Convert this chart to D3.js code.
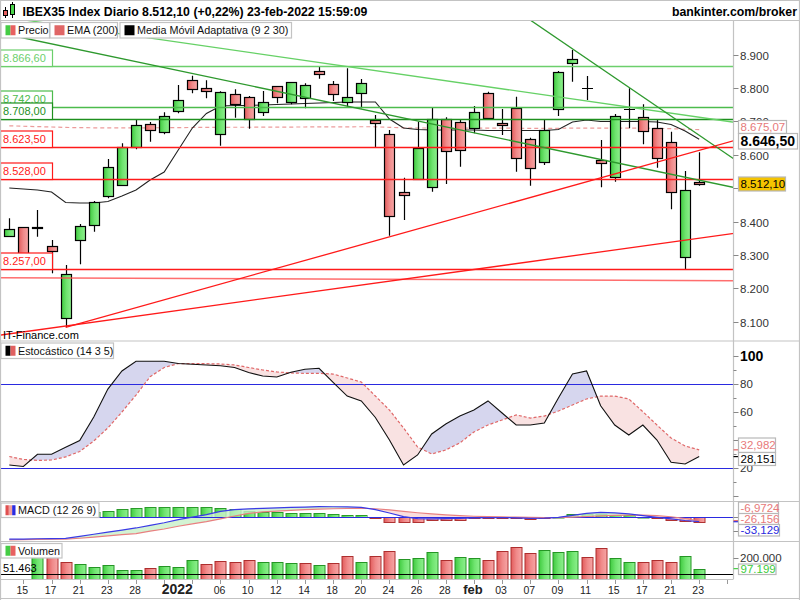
<!DOCTYPE html>
<html><head><meta charset="utf-8">
<script src="https://cdn.jsdelivr.net/npm/d3@7/dist/d3.min.js"></script>
<style>
html,body{margin:0;padding:0;background:#fff;}
svg{display:block;font-family:"Liberation Sans",Arial,sans-serif;}
</style></head><body>
<svg id="c" width="800" height="600"></svg>
<script>
// ---------------- DATA ----------------
const dates = ["2021-12-14","2021-12-15","2021-12-16","2021-12-17","2021-12-20","2021-12-21","2021-12-22","2021-12-23","2021-12-27","2021-12-28","2021-12-29","2021-12-30","2022-01-03","2022-01-04","2022-01-05","2022-01-06","2022-01-07","2022-01-10","2022-01-11","2022-01-12","2022-01-13","2022-01-14","2022-01-17","2022-01-18","2022-01-19","2022-01-20","2022-01-21","2022-01-24","2022-01-25","2022-01-26","2022-01-27","2022-01-28","2022-01-31","2022-02-01","2022-02-02","2022-02-03","2022-02-04","2022-02-07","2022-02-08","2022-02-09","2022-02-10","2022-02-11","2022-02-14","2022-02-15","2022-02-16","2022-02-17","2022-02-18","2022-02-21","2022-02-22","2022-02-23"];
const open  = [8357.5,8382.6,8384.4,8325.7,8110.2,8343.7,8389.5,8475.4,8510.2,8623.1,8691.0,8667.1,8729.9,8822.8,8798.8,8662.9,8780.8,8771.8,8727.8,8804.8,8756.9,8768.9,8849.7,8810.8,8758.7,8783.8,8703.0,8661.1,8487.4,8526.4,8502.4,8706.9,8697.0,8679.0,8783.8,8694.0,8740.7,8646.1,8577.2,8735.9,8873.7,8798.8,8583.2,8533.2,8735.9,8712.0,8679.0,8637.1,8292.8,8517.4];
const high  = [8409.6,8382.6,8434.4,8344.6,8269.8,8392.5,8461.4,8587.1,8634.1,8703.9,8697.9,8727.0,8808.7,8836.5,8822.8,8790.0,8795.8,8775.8,8790.7,8806.0,8818.0,8813.8,8865.6,8820.7,8858.7,8826.6,8718.9,8674.0,8531.1,8698.8,8740.7,8712.0,8706.9,8745.8,8788.6,8736.8,8773.7,8650.9,8703.9,8850.6,8913.5,8835.6,8644.0,8721.9,8798.8,8750.9,8706.9,8668.9,8551.2,8607.2];
const low   = [8354.5,8296.0,8354.5,8244.9,8083.2,8271.9,8369.5,8469.5,8507.2,8616.2,8638.9,8661.1,8724.0,8783.8,8768.9,8626.9,8710.8,8677.8,8715.9,8753.9,8750.9,8738.9,8827.5,8760.8,8743.7,8738.9,8622.2,8357.5,8404.5,8526.4,8489.2,8512.3,8564.1,8664.1,8710.0,8659.0,8549.1,8507.2,8569.2,8715.9,8818.6,8763.8,8502.4,8519.2,8679.0,8631.1,8561.1,8436.5,8257.0,8507.2];
const close = [8376.6,8300.0,8379.6,8310.8,8241.9,8386.5,8457.5,8562.3,8622.2,8688.0,8674.0,8715.0,8762.9,8796.7,8789.8,8787.0,8750.9,8706.0,8756.9,8771.8,8816.8,8807.8,8840.7,8780.8,8773.7,8813.8,8694.0,8415.6,8478.4,8619.2,8706.9,8610.2,8613.2,8726.9,8710.8,8688.0,8589.2,8559.3,8673.1,8846.7,8885.6,8798.8,8574.3,8716.8,8735.9,8670.0,8589.2,8487.4,8493.4,8512.1];
const ema200 = [8686.5,8685.2,8684.1,8683.0,8681.6,8681.0,8680.6,8680.4,8680.4,8680.5,8680.6,8680.8,8681.1,8681.5,8681.8,8682.0,8682.2,8682.2,8682.4,8682.5,8682.8,8683.0,8683.3,8683.4,8683.5,8683.7,8683.6,8681.9,8680.4,8679.8,8680.0,8679.8,8679.6,8679.6,8679.7,8679.6,8679.3,8678.8,8678.7,8679.0,8679.5,8679.7,8679.4,8679.5,8679.6,8679.4,8678.9,8678.0,8676.2,8675.07];
const kama = [8500.3,8497.3,8494.3,8488.3,8456.9,8455.4,8455.4,8459.9,8476.3,8494.3,8524.3,8548.3,8614.1,8679.9,8723.4,8745.8,8747.3,8747.3,8748.8,8750.3,8751.8,8753.3,8754.8,8756.3,8757.8,8757.8,8757.8,8706.9,8679.9,8675.4,8673.9,8673.9,8673.9,8673.9,8672.4,8672.4,8672.4,8672.4,8672.4,8675.4,8697.9,8703.9,8699.4,8699.4,8699.4,8699.4,8697.9,8690.4,8670.9,8646.5];
const volume = [null,null,215000,205000,156800,138000,112700,131500,81700,81700,103300,122100,112700,178400,140800,169000,159600,178400,159600,159600,150200,150200,131500,150200,213100,159600,213100,262900,187800,194400,250700,175600,203800,194400,175600,260100,297700,241300,269500,250700,260100,203800,288300,194400,156800,156800,175600,156800,213100,97199];
const stochK = [22.1,21.1,29.8,29.8,34.8,39.6,56.4,76.4,89.3,96.2,96.2,96.2,94.6,94.1,93.6,93.0,91.8,88.2,85.7,85.0,88.4,90.5,91.2,81.2,71.4,67.9,56.1,40.0,22.1,29.3,44.3,51.4,57.1,61.4,67.9,59.3,50.7,50.7,52.1,70.0,87.1,89.3,64.5,50.7,43.6,50.7,40.0,24.1,22.9,28.151];
const stochD = [28.2,26.1,25.4,25.7,27.9,31.8,39.3,48.6,60.0,72.1,85.2,91.8,94.6,94.6,94.5,94.3,93.6,91.8,90.0,88.6,87.9,87.6,87.6,87.1,84.3,81.4,71.4,61.4,48.6,35.0,30.0,32.9,37.9,45.7,50.7,54.3,57.9,55.7,57.1,60.7,65.0,69.3,71.4,71.4,69.3,60.2,50.7,41.4,35.7,32.982];
const macdLine = [-164,-163,-161,-160,-158,-143,-127,-111,-96,-80,-60,-41,-18,1,20,45,58,63,67,70,74,77,80,79,78,75,58,32,5,-10,-12,-10,-8,-5,-3,-2,-4,-8,-6,0,15,30,37,33,25,12,0,-12,-24,-33.129];
const macdSignal = [-170,-168,-166,-164,-163,-157,-149,-139,-130,-122,-104,-88,-67,-49,-33,-12,10,30,40,46,52,57,62,64,66,68,64,55,44,34,25,18,12,8,5,3,1,-1,-2,-2,1,6,11,15,17,16,12,4,-9,-26.156];
const macdHist = [1.6,2.4,3.2,4.0,4.8,6.3,7.9,10.0,13.2,14.3,15.9,15.9,15.9,15.9,15.9,14.3,12.7,10.0,7.9,7.9,6.3,6.3,6.3,4.8,3.6,3.6,-0.8,-6.8,-7.9,-7.9,-4.0,-4.0,-4.0,-1.6,-1.6,-0.8,-1.6,-3.2,-1.6,0.8,4.8,4.8,4.8,4.0,3.2,0.8,-1.6,-4.0,-5.5,-6.9724];
const xTickIdx    = [1,3,5,7,9,12,15,17,19,21,23,25,27,29,31,33,35,37,39,41,43,45,47,49];
const xTickLabels = ["15","17","21","23","28","2022","06","10","12","14","18","20","24","26","28","feb","03","07","09","11","15","17","21","23"];
// visible price-axis labels (8.500 and 8.700 sit under the value boxes)
const priceTicks = [8100,8200,8300,8400,8500,8600,8700,8800,8900];
const priceTickLabels = ["8.100","8.200","8.300","8.400","","8.600","8.700","8.800","8.900"];
const stochTicks = [20,60,80,100];
const levelValues = [8866.6,8742.0,8708.0,8623.5,8528.0,8257.0];
const levelLabels = ["8.866,60","8.742,00","8.708,00","8.623,50","8.528,00","8.257,00"];
// trendlines: [startIndex, startPrice, endIndex, endPrice]
const trendGreenLong  = [-1, 8967.2, 52, 8497.0];
const trendGreenLight = [-1, 9016.0, 52, 8693.9];
const trendGreenSteep = [36, 9031.9, 52, 8571.9];
const trendRedSteep   = [4, 8083.2, 52, 8648.4];
const trendRedShallow = [-1, 8057.8, 52, 8367.3];
const trendRedFlat    = [-1, 8231.8, 52, 8222.7];

// ---------------- SETUP ----------------
const svg = d3.select('#c');
const AX = 733.5;
const P = {mainTop:21, mainBot:341, stBot:501.5, mcBot:541.5, vBot:579};
const x  = d3.scaleLinear().domain([0,49]).range([9.3,699.2]);
const yP = d3.scaleLinear().domain([8100,8900]).range([321.7,54.5]);
const yS = d3.scaleLinear().domain([0,100]).range([496,356]);
const yM = d3.scaleLinear().domain([-183,117]).range([541.7,501.7]);
const yH = d3.scaleLinear().domain([-38.7,24.8]).range([541.7,501.7]);
const yV = d3.scaleLinear().domain([0,200000]).range([579,557.7]);
const xr = i => Math.round(x(i)) + 0.5;
const idx = d3.range(dates.length);
const GRAY = '#c3c3c3';

const defs = svg.append('defs');
function grad(id, stops){
  const g = defs.append('linearGradient').attr('id',id).attr('x1','0%').attr('x2','100%').attr('y1','0%').attr('y2','0%');
  stops.forEach((c,k)=>g.append('stop').attr('offset',(k/(stops.length-1)*100)+'%').attr('stop-color',c));
}
grad('gG',['#3fca3f','#6fe46f','#8ef08e']);
grad('gR',['#e25c5c','#f08a8a','#f6a6a6']);
function clip(id,x0,y0,w,h){defs.append('clipPath').attr('id',id).append('rect').attr('x',x0).attr('y',y0).attr('width',w).attr('height',h);}
clip('cMain',1,P.mainTop,AX-1,P.mainBot-P.mainTop);
clip('cSt',1,P.mainBot,AX-1,P.stBot-P.mainBot);
clip('cMc',1,P.stBot,AX-1,P.mcBot-P.stBot);
clip('cV',1,P.mcBot,AX-1,P.vBot-P.mcBot);

svg.append('rect').attr('width',800).attr('height',600).attr('fill','#fff');

// ---------------- MAIN PANEL ----------------
const gm = svg.append('g').attr('clip-path','url(#cMain)');
gm.append('path').datum(idx).attr('fill','none').attr('stroke','#e98a8a').attr('stroke-width',1.2)
  .attr('stroke-dasharray','4,3').attr('opacity',0.85)
  .attr('d', d3.line().x(i=>x(i)).y(i=>yP(ema200[i])));
gm.append('path').datum(idx).attr('fill','none').attr('stroke','#222').attr('stroke-width',1.1)
  .attr('d', d3.line().x(i=>x(i)).y(i=>yP(kama[i])));
idx.forEach(i=>{
  const cx = xr(i);
  gm.append('line').attr('x1',cx).attr('x2',cx).attr('y1',yP(high[i])).attr('y2',yP(low[i])).attr('stroke','#000').attr('stroke-width',1.2);
  const o=open[i], c=close[i];
  if (Math.abs(c-o) < 0.5){
    gm.append('line').attr('x1',cx-5.5).attr('x2',cx+5.5).attr('y1',Math.round(yP(c))+0.5).attr('y2',Math.round(yP(c))+0.5).attr('stroke','#000').attr('stroke-width',1.2);
  } else {
    const t = Math.round(yP(Math.max(o,c)))+0.5, b = Math.round(yP(Math.min(o,c)))+0.5;
    gm.append('rect').attr('x',cx-5).attr('y',t).attr('width',10).attr('height',Math.max(1,b-t))
      .attr('fill', c>o ? 'url(#gG)' : 'url(#gR)').attr('stroke','#000').attr('stroke-width',1.2);
  }
});
const levelColors = ['#6ccf6c','#4cbb4c','#1e8f1e','#ff1a1a','#ff1a1a','#ff1a1a'];
levelValues.forEach((v,k)=>{
  gm.append('line').attr('x1',0).attr('x2',AX).attr('y1',Math.round(yP(v))+0.5).attr('y2',Math.round(yP(v))+0.5)
    .attr('stroke',levelColors[k]).attr('stroke-width',1.3);
});
function tline(t,color,w,op){
  gm.append('line').attr('x1',x(t[0])).attr('y1',yP(t[1])).attr('x2',x(t[2])).attr('y2',yP(t[3]))
    .attr('stroke',color).attr('stroke-width',w).attr('opacity',op||1);
}
tline(trendRedFlat,'#ff5555',1.6,0.85);
tline(trendGreenLight,'#66d166',1.3);
tline(trendGreenLong,'#2e992e',1.3);
tline(trendGreenSteep,'#2e992e',1.3);
tline(trendRedSteep,'#ff1a1a',1.3);
tline(trendRedShallow,'#ff1a1a',1.3);
levelValues.forEach((v,k)=>{
  const yb = Math.round(yP(v))+0.5;
  svg.append('rect').attr('x',0.5).attr('y',yb-16.5).attr('width',52).attr('height',16.5)
    .attr('fill','#fff').attr('stroke',levelColors[k]).attr('stroke-width',1.2);
  svg.append('text').attr('x',3).attr('y',yb-4.5).attr('font-size',11).attr('fill',levelColors[k]).text(levelLabels[k]);
});
svg.append('text').attr('x',3).attr('y',339).attr('font-size',11).attr('fill','#000').text('IT-Finance.com');

// ---------------- STOCHASTIC ----------------
const gs = svg.append('g').attr('clip-path','url(#cSt)');
const stArea = d3.area().x(i=>x(i)).y0(i=>yS(stochD[i])).y1(i=>yS(stochK[i]));
defs.append('clipPath').attr('id','stUp').append('path').datum(idx)
  .attr('d', d3.area().x(i=>x(i)).y0(P.mainTop).y1(i=>yS(stochD[i])));
defs.append('clipPath').attr('id','stDn').append('path').datum(idx)
  .attr('d', d3.area().x(i=>x(i)).y0(i=>yS(stochD[i])).y1(600));
gs.append('path').datum(idx).attr('d',stArea).attr('fill','#d6d6ee').attr('clip-path','url(#stUp)');
gs.append('path').datum(idx).attr('d',stArea).attr('fill','#f9e2e2').attr('clip-path','url(#stDn)');
[80,20].forEach(v=>gs.append('line').attr('x1',0).attr('x2',AX).attr('y1',Math.round(yS(v))+0.5).attr('y2',Math.round(yS(v))+0.5).attr('stroke','#2a2ae0').attr('stroke-width',1.2));
gs.append('path').datum(idx).attr('fill','none').attr('stroke','#e06868').attr('stroke-width',1.2).attr('stroke-dasharray','3,2')
  .attr('d', d3.line().x(i=>x(i)).y(i=>yS(stochD[i])));
gs.append('path').datum(idx).attr('fill','none').attr('stroke','#111').attr('stroke-width',1.1)
  .attr('d', d3.line().x(i=>x(i)).y(i=>yS(stochK[i])));

// ---------------- MACD ----------------
const gc = svg.append('g').attr('clip-path','url(#cMc)');
idx.forEach(i=>{
  const h = macdHist[i], y0 = Math.round(yH(0))+0.5, y1 = Math.round(yH(h))+0.5;
  gc.append('rect').attr('x',xr(i)-5.5).attr('width',11).attr('y',Math.min(y0,y1)).attr('height',Math.max(0.5,Math.abs(y1-y0)))
    .attr('fill', h>=0 ? 'url(#gG)' : 'url(#gR)').attr('stroke', h>=0 ? '#2a9a2a' : '#b03232').attr('stroke-width',1);
});
const mcArea = d3.area().x(i=>x(i)).y0(i=>yM(macdSignal[i])).y1(i=>yM(macdLine[i]));
defs.append('clipPath').attr('id','mcUp').append('path').datum(idx)
  .attr('d', d3.area().x(i=>x(i)).y0(P.stBot).y1(i=>yM(macdSignal[i])));
defs.append('clipPath').attr('id','mcDn').append('path').datum(idx)
  .attr('d', d3.area().x(i=>x(i)).y0(i=>yM(macdSignal[i])).y1(600));
gc.append('path').datum(idx).attr('d',mcArea).attr('fill','#c8f0c8').attr('opacity',0.8).attr('clip-path','url(#mcUp)');
gc.append('path').datum(idx).attr('d',mcArea).attr('fill','#f9d6d6').attr('opacity',0.8).attr('clip-path','url(#mcDn)');
gc.append('line').attr('x1',0).attr('x2',AX).attr('y1',Math.round(yM(0))+0.5).attr('y2',Math.round(yM(0))+0.5).attr('stroke','#2a2ae0').attr('stroke-width',1.2);
gc.append('path').datum(idx).attr('fill','none').attr('stroke','#e88080').attr('stroke-width',1.2)
  .attr('d', d3.line().x(i=>x(i)).y(i=>yM(macdSignal[i])));
gc.append('path').datum(idx).attr('fill','none').attr('stroke','#3a3ae6').attr('stroke-width',1.2)
  .attr('d', d3.line().x(i=>x(i)).y(i=>yM(macdLine[i])));

// ---------------- VOLUME ----------------
const gv = svg.append('g').attr('clip-path','url(#cV)');
idx.forEach(i=>{
  if (volume[i]==null) return;
  const up = i===0 || close[i] >= close[i-1];
  const t = Math.round(yV(volume[i]))+0.5, b = Math.round(yV(0))+0.5;
  gv.append('rect').attr('x',xr(i)-5.5).attr('width',11).attr('y',t).attr('height',b-t)
    .attr('fill', up ? 'url(#gG)' : 'url(#gR)').attr('stroke', up ? '#259525' : '#ad2e2e').attr('stroke-width',1);
});
gv.append('line').attr('x1',0).attr('x2',AX).attr('y1',Math.round(yV(51463))+0.5).attr('y2',Math.round(yV(51463))+0.5).attr('stroke','#000').attr('stroke-width',1.2);
svg.append('text').attr('x',3).attr('y',571.5).attr('font-size',11).attr('fill','#000').text('51.463');

// ---------------- FRAME / SEPARATORS ----------------
[0.5, P.mainTop-0.5, P.mainBot, P.stBot, P.mcBot].forEach(yy=>
  svg.append('line').attr('x1',0).attr('x2',800).attr('y1',yy).attr('y2',yy).attr('stroke',GRAY).attr('stroke-width',1.2));
svg.append('line').attr('x1',0).attr('x2',800).attr('y1',598.5).attr('y2',598.5).attr('stroke',GRAY).attr('stroke-width',1.2);
svg.append('line').attr('x1',0.5).attr('x2',0.5).attr('y1',0).attr('y2',600).attr('stroke',GRAY).attr('stroke-width',1.2);
svg.append('line').attr('x1',799.5).attr('x2',799.5).attr('y1',0).attr('y2',600).attr('stroke',GRAY).attr('stroke-width',1.2);
svg.append('line').attr('x1',AX).attr('x2',AX).attr('y1',P.mainTop).attr('y2',P.vBot).attr('stroke',GRAY).attr('stroke-width',1.2);
svg.append('line').attr('x1',0).attr('x2',AX).attr('y1',P.vBot+0.5).attr('y2',P.vBot+0.5).attr('stroke',GRAY).attr('stroke-width',1.2);

// ---------------- RIGHT AXES ----------------
const axC = '#333';
priceTicks.forEach((v,k)=>{
  const yy = Math.round(yP(v))+0.5;
  svg.append('line').attr('x1',AX).attr('x2',AX+5).attr('y1',yy).attr('y2',yy).attr('stroke','#888');
  if (priceTickLabels[k]) svg.append('text').attr('x',740).attr('y',yy).attr('dy','0.36em').attr('font-size',11.5).attr('fill',axC).text(priceTickLabels[k]);
});
function valBox(x0,y0,w,h,txt,col,fs,bold,bg){
  svg.append('rect').attr('x',x0).attr('y',y0).attr('width',w).attr('height',h).attr('fill',bg||'#fff').attr('stroke','#b8b8b8').attr('stroke-width',1.2);
  svg.append('text').attr('x',x0+2).attr('y',y0+h/2).attr('dy','0.36em').attr('font-size',fs).attr('font-weight',bold?'bold':'normal').attr('fill',col).text(txt);
}
valBox(738.5,120.5,48,13,'8.675,07','#e77a7a',11.5,false);
valBox(738.5,133.5,59,15.5,'8.646,50','#000',14,true);
valBox(738.5,177,47,14,'8.512,10','#000',11.5,false,'#f5c400');
d3.range(0,101,10).forEach(v=>{
  const yy = Math.round(yS(v))+0.5;
  svg.append('line').attr('x1',AX).attr('x2',AX+(v%20===0?5:3)).attr('y1',yy).attr('y2',yy).attr('stroke','#888');
});
stochTicks.forEach(v=>{
  svg.append('text').attr('x',740).attr('y',yS(v)).attr('dy','0.36em').attr('font-size',v===100?14:11.5).attr('font-weight',v===100?'bold':'normal').attr('fill',v===100?'#000':axC).text(v);
});
svg.append('line').attr('x1',AX).attr('x2',AX+5).attr('y1',yS(32.982)).attr('y2',yS(32.982)).attr('stroke','#e06060').attr('stroke-width',1.2);
svg.append('line').attr('x1',AX).attr('x2',AX+5).attr('y1',yS(28.151)).attr('y2',yS(28.151)).attr('stroke','#000').attr('stroke-width',1.2);
valBox(738.5,438,37,14.5,'32,982','#e77a7a',11.5,false);
valBox(738.5,452.5,37,13,'28,151','#000',11.5,false);
[0,-100].forEach(v=>{const yy=Math.round(yM(v))+0.5;svg.append('line').attr('x1',AX).attr('x2',AX+5).attr('y1',yy).attr('y2',yy).attr('stroke','#888');});
svg.append('line').attr('x1',AX).attr('x2',AX+5).attr('y1',yM(-26.156)).attr('y2',yM(-26.156)).attr('stroke','#e05050').attr('stroke-width',1.2);
svg.append('line').attr('x1',AX).attr('x2',AX+5).attr('y1',yM(-33.129)).attr('y2',yM(-33.129)).attr('stroke','#2a2ae0').attr('stroke-width',1.2);
valBox(738.5,513,40,11.5,'-26,156','#e77a7a',11.5,false);
valBox(738.5,502,40,11.5,'-6,9724','#e77a7a',11.5,false);
valBox(738.5,524.5,41,11.5,'-33,129','#2a2ae0',11.5,false);
svg.append('line').attr('x1',AX).attr('x2',AX+5).attr('y1',Math.round(yV(200000))+0.5).attr('y2',Math.round(yV(200000))+0.5).attr('stroke','#888');
svg.append('text').attr('x',740).attr('y',yV(200000)).attr('dy','0.36em').attr('font-size',11.5).attr('fill',axC).text('200.000');
svg.append('line').attr('x1',AX).attr('x2',AX+5).attr('y1',yV(97199)).attr('y2',yV(97199)).attr('stroke','#44cc44').attr('stroke-width',1.2);
valBox(738.5,564,37.5,10.5,'97.199','#3ccc3c',11.5,false);

// ---------------- X AXIS ----------------
d3.range(1,52,2).forEach(i=>{
  svg.append('line').attr('x1',xr(i)).attr('x2',xr(i)).attr('y1',P.vBot+1).attr('y2',P.vBot+5).attr('stroke','#999');
});
xTickIdx.forEach((i,k)=>{
  const lab = xTickLabels[k];
  const big = (lab==='2022'||lab==='feb');
  svg.append('text').attr('x',x(i)-1).attr('y',594).attr('text-anchor','middle')
    .attr('font-size', lab==='2022'?14:(big?13:10.5)).attr('font-weight',big?'bold':'normal').attr('fill','#222').text(lab);
});

// ---------------- HEADER & LEGENDS ----------------
svg.append('line').attr('x1',5.5).attr('x2',5.5).attr('y1',7).attr('y2',18).attr('stroke','#000');
svg.append('rect').attr('x',3.5).attr('y',10.5).attr('width',4).attr('height',5).attr('fill','#e86060').attr('stroke','#000');
svg.append('line').attr('x1',12.5).attr('x2',12.5).attr('y1',2).attr('y2',18).attr('stroke','#000');
svg.append('rect').attr('x',10.5).attr('y',4.5).attr('width',4).attr('height',10).attr('fill','#4cd64c').attr('stroke','#000');
svg.append('text').attr('x',22.5).attr('y',16).attr('font-size',12.3).attr('font-weight','bold').attr('fill','#000')
  .text('IBEX35 Index Diario 8.512,10 (+0,22%) 23-feb-2022 15:59:09');
svg.append('text').attr('x',797).attr('y',16).attr('text-anchor','end').attr('font-size',12.3).attr('font-weight','bold').attr('fill','#000')
  .text('bankinter.com/broker');
function legend(x0,y0,w,h,txt,sw){
  svg.append('rect').attr('x',x0).attr('y',y0).attr('width',w).attr('height',h).attr('fill','#fff').attr('stroke',GRAY).attr('stroke-width',1.2);
  const sx = x0+4.5, sy = y0+(h-10)/2, n = sw.length, sww = 10/n;
  sw.forEach((c,k)=>svg.append('rect').attr('x',sx+k*sww).attr('y',sy).attr('width',sww).attr('height',10).attr('fill',c));
  svg.append('text').attr('x',x0+17).attr('y',y0+h/2).attr('dy','0.36em').attr('font-size',10.8).attr('fill','#111').text(txt);
}
legend(1,22.5,48.5,15.5,'Precio',['#44cc44','#e86060']);
legend(50,22.5,67.5,15.5,'EMA (200)',['#e06666']);
legend(120,22.5,171.5,15.5,'Media Móvil Adaptativa (9 2 30)',['#000']);
legend(1,343,112.5,15.5,'Estocástico (14 3 5)',['#000','#e06060']);
legend(1,503,98,14.5,'MACD (12 26 9)',['#e05050','#f0a0a0','#2a2ae0']);
legend(1,543.5,61,14.5,'Volumen',['#44cc44','#e86060']);
</script>
</body></html>
